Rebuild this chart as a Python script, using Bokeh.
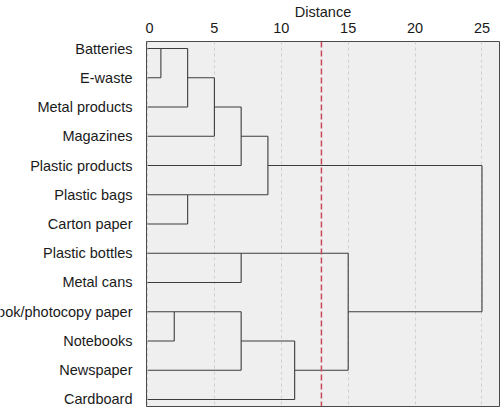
from bokeh.plotting import figure
from bokeh.layouts import row as bk_row
from bokeh.models import Range1d, FixedTicker, Span, ColumnDataSource
from bokeh.core.properties import value
from bokeh.embed import file_html
from bokeh.resources import INLINE

# ---- data ----
leaves = ["Batteries", "E-waste", "Metal products", "Magazines", "Plastic products",
          "Plastic bags", "Carton paper", "Plastic bottles", "Metal cans",
          "Book/photocopy paper", "Notebooks", "Newspaper", "Cardboard"]
# linkage-style merges: (child_a, child_b, rescaled distance); new node ids start at len(leaves)
merge_a = [0, 13, 14, 15, 5, 16, 7, 9, 20, 21, 19, 18]
merge_b = [1, 2, 3, 4, 6, 17, 8, 10, 11, 12, 22, 23]
merge_h = [1, 3, 5, 7, 3, 9, 7, 2, 7, 11, 15, 25]
x_ticks = [0, 5, 10, 15, 20, 25]
cut_distance = 13

# ---- build dendrogram (SPSS style: cluster row = floor of mean of child rows) ----
n = len(leaves)
rows = {i: i for i in range(n)}
height = {i: 0 for i in range(n)}
parent_h = {}
for k, (a, b, h) in enumerate(zip(merge_a, merge_b, merge_h)):
    node = n + k
    rows[node] = (rows[a] + rows[b]) // 2
    height[node] = h
    parent_h[a] = h
    parent_h[b] = h

x0, y0, x1, y1 = [], [], [], []
for node, ph in parent_h.items():
    x0.append(height[node]); x1.append(ph)
    y0.append(rows[node]); y1.append(rows[node])
for k, (a, b, h) in enumerate(zip(merge_a, merge_b, merge_h)):
    x0.append(h); x1.append(h)
    y0.append(rows[a]); y1.append(rows[b])

src = ColumnDataSource(dict(x0=x0, y0=y0, x1=x1, y1=y1))

FONT = "Liberation Sans"
FS = "14.5px"
TOP = 40
BOTTOM = 2
H = 408

yr = Range1d(n - 1 + 0.24, -0.24)

# ---- label panel ----
LW = 145
lab = figure(width=LW, height=H, output_backend="svg", toolbar_location=None,
             x_axis_type=None, y_axis_type=None,
             x_range=Range1d(0, LW), y_range=yr,
             min_border_left=0, min_border_right=0,
             min_border_top=TOP, min_border_bottom=BOTTOM)
lab.outline_line_color = None
lab.grid.visible = False
lab.background_fill_color = "white"
lab.border_fill_color = "white"
lab_src = ColumnDataSource(dict(x=[LW - 13] * n, y=list(range(n)), t=leaves))
lab.text(x="x", y="y", text="t", source=lab_src,
         text_align="right", text_baseline="middle",
         text_font=value(FONT), text_font_size=value(FS), text_color="#1a1a1a")

# ---- dendrogram panel ----
p = figure(width=357, height=H, output_backend="svg", toolbar_location=None,
           x_axis_location="above", y_axis_type=None,
           x_range=Range1d(-0.075, 26.31), y_range=yr,
           min_border_left=1, min_border_right=3,
           min_border_bottom=BOTTOM, min_border_top=TOP)

p.background_fill_color = "#efefef"
p.border_fill_color = "white"
p.outline_line_color = "#4a4a4a"
p.outline_line_width = 1
p.ygrid.visible = False

ax = p.xaxis[0]
ax.ticker = FixedTicker(ticks=x_ticks)
ax.axis_label = "Distance"
ax.axis_label_text_font = FONT
ax.axis_label_text_font_size = FS
ax.axis_label_text_font_style = "normal"
ax.axis_label_text_color = "#1a1a1a"
ax.axis_label_standoff = 0
ax.major_label_text_font = FONT
ax.major_label_text_font_size = FS
ax.major_label_text_color = "#1a1a1a"
ax.major_label_standoff = 3
ax.major_tick_line_color = None
ax.minor_tick_line_color = None
ax.axis_line_color = None

p.xgrid.ticker = FixedTicker(ticks=x_ticks)
p.xgrid.grid_line_color = "#cfcfcf"
p.xgrid.grid_line_dash = "3 3"
p.xgrid.grid_line_width = 1

p.segment(x0="x0", y0="y0", x1="x1", y1="y1", source=src,
          line_color="#3c3c3c", line_width=1.1)

p.add_layout(Span(location=cut_distance, dimension="height",
                  line_color="#c9485b", line_dash="6 3", line_width=1.5))

layout = bk_row(lab, p, spacing=0)

open("out.html", "w").write(file_html(layout, INLINE))
